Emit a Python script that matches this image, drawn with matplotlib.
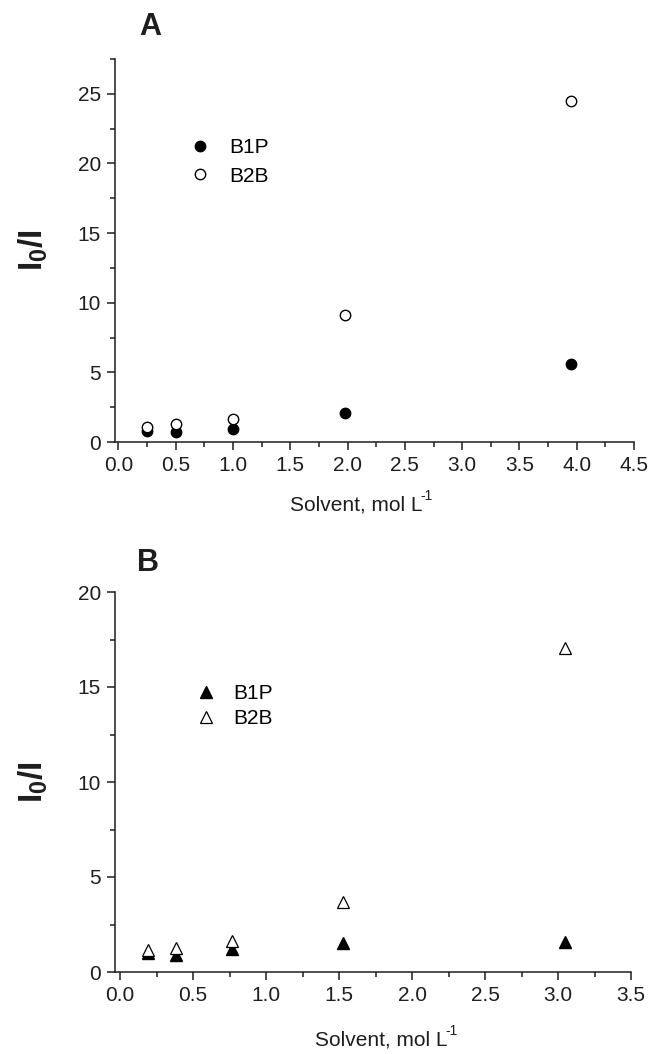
import matplotlib
matplotlib.use("Agg")
import matplotlib.pyplot as plt
from matplotlib.ticker import MultipleLocator, FormatStrFormatter

plt.rcParams['font.family'] = ['Liberation Sans', 'DejaVu Sans']
plt.rcParams['mathtext.fontset'] = 'custom'
plt.rcParams['mathtext.rm'] = 'Liberation Sans'
plt.rcParams['mathtext.bf'] = 'Liberation Sans:bold'

# Panel A: quenching ratio vs solvent concentration (circles)
conc_a = [0.25, 0.50, 1.00, 1.98, 3.95]
b1p_a = [0.80, 0.72, 0.91, 2.10, 5.57]
b2b_a = [1.08, 1.27, 1.63, 9.10, 24.45]

# Panel B: quenching ratio vs solvent concentration (triangles)
conc_b = [0.19, 0.38, 0.765, 1.53, 3.05]
b1p_b = [1.00, 0.91, 1.22, 1.51, 1.58]
b2b_b = [1.17, 1.26, 1.61, 3.70, 17.07]

series_names = ["B1P", "B2B"]
panel_letters = ["A", "B"]
x_label = "Solvent, mol L"
x_label_sup = "-1"
y_label = r"$\mathbf{I_0/I}$"

INK = '#1e1e1e'
W, H = 650, 1054
fig = plt.figure(figsize=(W / 100, H / 100), dpi=100)


def px_axes(left, top, right, bottom):
    return fig.add_axes([left / W, 1 - bottom / H, (right - left) / W, (bottom - top) / H])


def style(ax, xmin, xmax, ymax):
    ax.set_xlim(xmin, xmax)
    ax.set_ylim(0, ymax)
    ax.spines['top'].set_visible(False)
    ax.spines['right'].set_visible(False)
    for s in ('left', 'bottom'):
        ax.spines[s].set_linewidth(1.1)
        ax.spines[s].set_color(INK)
    ax.xaxis.set_major_locator(MultipleLocator(0.5))
    ax.xaxis.set_minor_locator(MultipleLocator(0.25))
    ax.yaxis.set_major_locator(MultipleLocator(5))
    ax.yaxis.set_minor_locator(MultipleLocator(2.5))
    ax.tick_params(which='major', direction='out', length=6, width=1.1,
                   labelsize=15, pad=4, colors=INK)
    ax.tick_params(which='minor', direction='out', length=3.5, width=1.1,
                   colors=INK)
    ax.xaxis.set_major_formatter(FormatStrFormatter('%.1f'))
    ax.yaxis.set_major_formatter(FormatStrFormatter('%d'))


def xlabel_at(cx, cy):
    # main label text plus a small raised "-1" placed right after it
    t = fig.text(cx / W, 1 - cy / H, x_label, fontsize=15, ha='center',
                 va='center', color=INK)
    fig.canvas.draw()
    bb = t.get_window_extent()
    shift = 6 / W
    t.set_x(t.get_position()[0] - shift)
    fig.text(bb.x1 / W - shift - 1.5 / W, 1 - (cy - 9) / H, x_label_sup,
             fontsize=10, ha='left', va='center', color=INK)


# ---- Panel A ----
axA = px_axes(115, 59, 634, 442)
style(axA, -0.03, 4.5, 27.5)
hA1, = axA.plot(conc_a, b1p_a, 'o', ms=7.5, mfc='black', mec='black', mew=1.0, ls='none')
hA2, = axA.plot(conc_a, b2b_a, 'o', ms=7.5, mfc='white', mec='black', mew=1.0, ls='none')
axA.legend([hA1, hA2], series_names, loc='upper left', bbox_to_anchor=(0.128, 0.815),
           frameon=False, fontsize=15, handletextpad=0.9, labelspacing=0.45,
           handlelength=1.0, borderaxespad=0)

# ---- Panel B ----
axB = px_axes(115, 592, 631, 972)
style(axB, -0.035, 3.5, 20)
hB1, = axB.plot(conc_b, b1p_b, '^', ms=8.5, mfc='black', mec='black', mew=1.0, ls='none')
hB2, = axB.plot(conc_b, b2b_b, '^', ms=8.5, mfc='white', mec='black', mew=0.9, ls='none')
axB.legend([hB1, hB2], series_names, loc='upper left', bbox_to_anchor=(0.14, 0.78),
           frameon=False, fontsize=15, handletextpad=0.8, labelspacing=0.3,
           handlelength=1.0, borderaxespad=0)

# ---- Text: panel letters, axis titles ----
fig.text(150 / W, 1 - 27 / H, panel_letters[0], fontsize=22, fontweight='bold',
         ha='center', va='center', color=INK)
fig.text(148 / W, 1 - 563 / H, panel_letters[1], fontsize=22, fontweight='bold',
         ha='center', va='center', color=INK)

for yc in (250, 782):
    fig.text(33 / W, 1 - yc / H, y_label, fontsize=24, rotation=90,
             ha='center', va='center', color=INK)

xlabel_at(362, 505)
xlabel_at(387, 1040)

fig.savefig("out.png", dpi=100)
